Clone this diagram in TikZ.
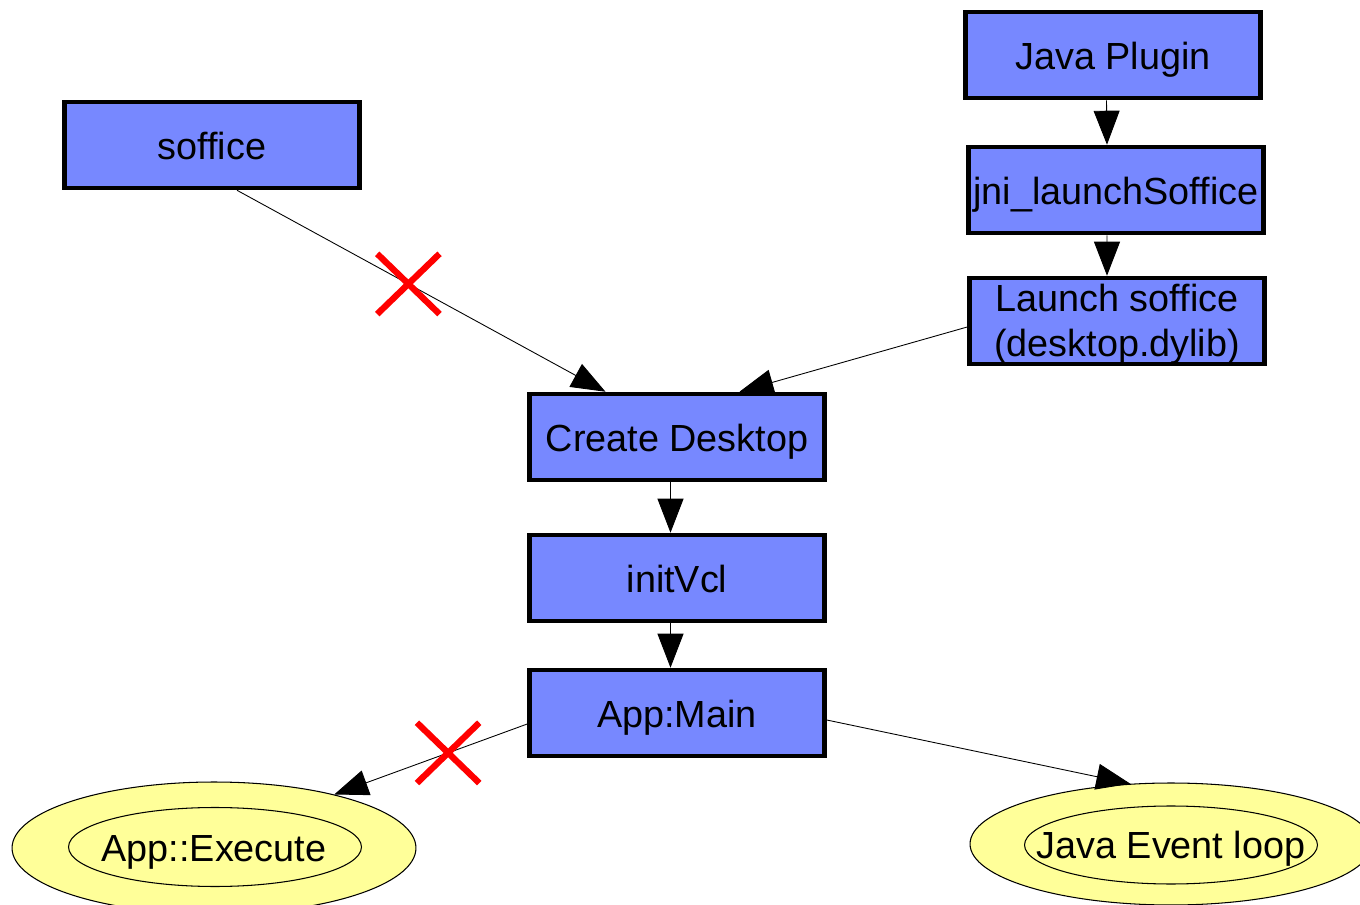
\documentclass[tikz,border=0pt]{standalone}
\usepackage{fontspec}
\setmainfont{Liberation Sans}
\usetikzlibrary{arrows.meta,positioning,shapes.geometric,shapes.misc}
\definecolor{boxblue}{HTML}{7788FF}
\definecolor{ovalyellow}{HTML}{FFFF99}

\begin{document}
\begin{tikzpicture}[x=0.02cm, y=-0.02cm,
    box/.style={rectangle, draw, line width=2.6pt, fill=boxblue, minimum width=5.9cm, minimum height=1.72cm, inner sep=0pt, align=center, text height=19pt, text depth=2pt, font=\fontsize{21.5}{25.5}\selectfont},
    oval/.style={ellipse, draw, line width=0.6pt, fill=ovalyellow, inner sep=0pt, text height=17pt, text depth=2pt, font=\fontsize{21.5}{25.5}\selectfont},
    ring/.style={ellipse, draw, line width=0.6pt, inner sep=0pt},
    edge/.style={-{Triangle[length=0.68cm, width=0.52cm]}, line width=0.5pt},
    blocked/.style={cross out, draw=red, line width=3.6pt, minimum width=1.12cm, minimum height=1.08cm, inner sep=0pt}]
         \useasboundingbox (0,0) rectangle (1360,905);
         \clip (0,0) rectangle (1360,905);

         % Define nodes
         \node[box] (soffice) at (212,145) {soffice};
         \node[box] (java) at (1113,55) {Java Plugin};
         \node[box] (jni) at (1116,190) {jni\_launchSoffice};
         \node[box, text height=, text depth=1pt] (launch) at (1117,321) {Launch soffice\\(desktop.dylib)};
         \node[box] (create) at (677,437) {Create Desktop};
         \node[box] (initvcl) at (677,578) {initVcl};
         \node[box] (appmain) at (677,713) {App:Main};
         \node[oval, minimum width=8.08cm, minimum height=2.64cm] (execute) at (214,848) {App::Execute};
         \node[ring, minimum width=5.86cm, minimum height=1.58cm] (executein) at (215,847) {};
         \node[oval, text height=18pt, minimum width=8.04cm, minimum height=2.44cm] (loop) at (1171,844) {Java Event loop};
         \node[ring, minimum width=5.86cm, minimum height=1.56cm] (loopin) at (1171,845) {};

         % Draw edges
         \draw[edge] ([xshift=0.5cm]soffice.south) -- ([xshift=-1.43cm]create.north) node[pos=0.465, blocked] {};
         \draw[edge] ([yshift=-0.12cm]launch.west) -- ([xshift=1.25cm]create.north);
         \draw[edge] ([xshift=-0.13cm]java.south) -- ([xshift=-0.18cm]jni.north);
         \draw[edge] ([xshift=-0.18cm]jni.south) -- ([xshift=-0.2cm]launch.north);
         \draw[edge] ([xshift=-0.13cm]create.south) -- ([xshift=-0.13cm]initvcl.north);
         \draw[edge] ([xshift=-0.13cm]initvcl.south) -- ([xshift=-0.13cm]appmain.north);
         \draw[edge] ([yshift=-0.22cm]appmain.west) -- (execute.24) node[pos=0.41, blocked] {};
         \draw[edge] ([yshift=-0.14cm]appmain.east) -- (loop.124);
      \end{tikzpicture}
\end{document}
